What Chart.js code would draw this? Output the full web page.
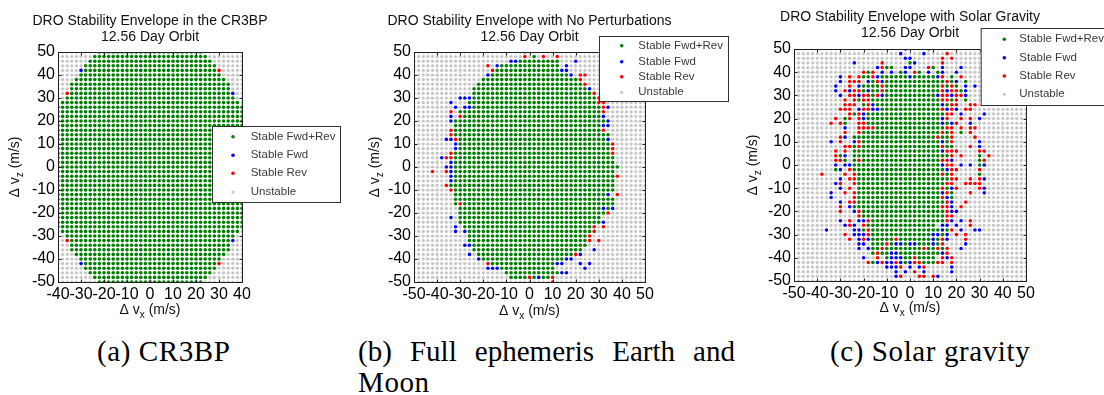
<!DOCTYPE html>
<html><head><meta charset="utf-8">
<script src="https://cdn.jsdelivr.net/npm/chart.js@4.4.0/dist/chart.umd.min.js"></script>
<style>
html,body{margin:0;padding:0;background:#fff;width:1104px;height:395px;overflow:hidden;position:relative}
canvas{position:absolute;top:0}
.cap{position:absolute;font-family:"Liberation Serif","DejaVu Serif",serif;font-size:29px;color:#000;white-space:nowrap;line-height:31px;letter-spacing:0.6px}
</style></head><body>
<canvas id="cA" width="370" height="330" style="left:0px"></canvas>
<canvas id="cB" width="370" height="330" style="left:360px"></canvas>
<canvas id="cC" width="369" height="330" style="left:735px"></canvas>
<div class="cap" style="left:97px;top:336px">(a) CR3BP</div>
<div class="cap" style="left:358px;top:336px;width:377px;white-space:normal;text-align:justify;text-align-last:justify;letter-spacing:0">(b) Full ephemeris Earth and</div>
<div class="cap" style="left:358px;top:367px">Moon</div>
<div class="cap" style="left:830px;top:336px">(c) Solar gravity</div>
<script>
// ---------------- DATA ----------------
const vzRows = [50,48,46,44,42,40,38,36,34,32,30,28,26,24,22,20,18,16,14,12,10,8,6,4,2,0,-2,-4,-6,-8,-10,-12,-14,-16,-18,-20,-22,-24,-26,-28,-30,-32,-34,-36,-38,-40,-42,-44,-46,-48,-50];
const vxColsA = [-40,-38,-36,-34,-32,-30,-28,-26,-24,-22,-20,-18,-16,-14,-12,-10,-8,-6,-4,-2,0,2,4,6,8,10,12,14,16,18,20,22,24,26,28,30,32,34,36,38,40];
const vxColsBC = [-50,-48,-46,-44,-42,-40,-38,-36,-34,-32,-30,-28,-26,-24,-22,-20,-18,-16,-14,-12,-10,-8,-6,-4,-2,0,2,4,6,8,10,12,14,16,18,20,22,24,26,28,30,32,34,36,38,40,42,44,46,48,50];
const xTicksA = [-40,-30,-20,-10,0,10,20,30,40];
const xTicksBC = [-50,-40,-30,-20,-10,0,10,20,30,40,50];
const yTicks = [-50,-40,-30,-20,-10,0,10,20,30,40,50];
const seriesNames = ['Stable Fwd+Rev','Stable Fwd','Stable Rev','Unstable'];
const seriesCodes = ['g','b','r','.'];
const titlesA = ['DRO Stability Envelope in the CR3BP','12.56 Day Orbit'];
const titlesB = ['DRO Stability Envelope with No Perturbations','12.56 Day Orbit'];
const titlesC = ['DRO Stability Envelope with Solar Gravity','12.56 Day Orbit'];

// g = Stable Fwd+Rev, b = Stable Fwd, r = Stable Rev, . = Unstable ; one string per vz row (50 .. -50)
const gridA = [
"..... ....g ggggg ggggg ggggg ggggg gg... ..... .",
"..... ...gg ggggg ggggg ggggg ggggg ggg.. ..... .",
"..... ..ggg ggggg ggggg ggggg ggggg gggg. ..... .",
"..... .gggg ggggg ggggg ggggg ggggg ggggg ..... .",
"..... bgggg ggggg ggggg ggggg ggggg ggggg r.... .",
"..... ggggg ggggg ggggg ggggg ggggg ggggg g.... .",
"....g ggggg ggggg ggggg ggggg ggggg ggggg gg... .",
"...gg ggggg ggggg ggggg ggggg ggggg ggggg ggg.. .",
"...gg ggggg ggggg ggggg ggggg ggggg ggggg ggg.. .",
"..rgg ggggg ggggg ggggg ggggg ggggg ggggg gggb. .",
"..ggg ggggg ggggg ggggg ggggg ggggg ggggg gggg. .",
".gggg ggggg ggggg ggggg ggggg ggggg ggggg ggggg .",
"ggggg ggggg ggggg ggggg ggggg ggggg ggggg ggggg g",
"ggggg ggggg ggggg ggggg ggggg ggggg ggggg ggggg g",
"ggggg ggggg ggggg ggggg ggggg ggggg ggggg ggggg g",
"ggggg ggggg ggggg ggggg ggggg ggggg ggggg ggggg g",
"ggggg ggggg ggggg ggggg ggggg ggggg ggggg ggggg g",
"ggggg ggggg ggggg ggggg ggggg ggggg ggggg ggggg g",
"ggggg ggggg ggggg ggggg ggggg ggggg ggggg ggggg g",
"ggggg ggggg ggggg ggggg ggggg ggggg ggggg ggggg g",
"ggggg ggggg ggggg ggggg ggggg ggggg ggggg ggggg g",
"ggggg ggggg ggggg ggggg ggggg ggggg ggggg ggggg g",
"ggggg ggggg ggggg ggggg ggggg ggggg ggggg ggggg g",
"ggggg ggggg ggggg ggggg ggggg ggggg ggggg ggggg g",
"ggggg ggggg ggggg ggggg ggggg ggggg ggggg ggggg g",
"ggggg ggggg ggggg ggggg ggggg ggggg ggggg ggggg g",
"ggggg ggggg ggggg ggggg ggggg ggggg ggggg ggggg g",
"ggggg ggggg ggggg ggggg ggggg ggggg ggggg ggggg g",
"ggggg ggggg ggggg ggggg ggggg ggggg ggggg ggggg g",
"ggggg ggggg ggggg ggggg ggggg ggggg ggggg ggggg g",
"ggggg ggggg ggggg ggggg ggggg ggggg ggggg ggggg g",
"ggggg ggggg ggggg ggggg ggggg ggggg ggggg ggggg g",
"ggggg ggggg ggggg ggggg ggggg ggggg ggggg ggggg g",
"ggggg ggggg ggggg ggggg ggggg ggggg ggggg ggggg g",
"ggggg ggggg ggggg ggggg ggggg ggggg ggggg ggggg g",
"ggggg ggggg ggggg ggggg ggggg ggggg ggggg ggggg g",
"ggggg ggggg ggggg ggggg ggggg ggggg ggggg ggggg g",
"ggggg ggggg ggggg ggggg ggggg ggggg ggggg ggggg g",
"ggggg ggggg ggggg ggggg ggggg ggggg ggggg ggggg g",
".gggg ggggg ggggg ggggg ggggg ggggg ggggg ggggg .",
"..ggg ggggg ggggg ggggg ggggg ggggg ggggg gggg. .",
"..rgg ggggg ggggg ggggg ggggg ggggg ggggg gggb. .",
"...gg ggggg ggggg ggggg ggggg ggggg ggggg ggg.. .",
"...gg ggggg ggggg ggggg ggggg ggggg ggggg ggg.. .",
"....g ggggg ggggg ggggg ggggg ggggg ggggg gg... .",
"..... ggggg ggggg ggggg ggggg ggggg ggggg g.... .",
"..... bgggg ggggg ggggg ggggg ggggg ggggg r.... .",
"..... .gggg ggggg ggggg ggggg ggggg ggggg ..... .",
"..... ..ggg ggggg ggggg ggggg ggggg gggg. ..... .",
"..... ...gg ggggg ggggg ggggg ggggg ggg.. ..... .",
"..... ....g ggggg ggggg ggggg ggggg gg... ..... ."
];

const gridB = [
"..... ..... ..... ..... ....g ..... ..... ..... ..... ..... .",
"..... ..... ..... ..... ....r .g.r. .r... ..... ..... ..... .",
"..... ..... ..... ..... .bbgg ggggg gg... b.... ..... ..... .",
"..... ..... ..... .r.bg ggggg ggggg gg.b. ..... ..... ..... .",
"..... ..... ..... ..rgg ggggg ggggg ggbb. ..... ..... ..... .",
"..... ..... ..... .bggg ggggg ggggg ggggb .rr.. ..... ..... .",
"..... ..... ..... ggggg ggggg ggggg ggggg gr... ..... ..... .",
"..... ..... ....g ggggg ggggg ggggg ggggg ggr.. ..... ..... .",
"..... ..... ...gg ggggg ggggg ggggg ggggg gggb. ..... ..... .",
"..... ..... ...gg ggggg ggggg ggggg ggggg ggggr ..... ..... .",
"..... ..... bbbgg ggggg ggggg ggggg ggggg ggggg r.... ..... .",
"..... ...b. ..ggg ggggg ggggg ggggg ggggg ggggg rr... ..... .",
"..... ....b .bbgg ggggg ggggg ggggg ggggg ggggg grb.. ..... .",
"..... ...r. ggggg ggggg ggggg ggggg ggggg ggggg gr... ..... .",
"..... ...b. rgggg ggggg ggggg ggggg ggggg ggggg gb... ..... .",
"..... ...bg ggggg ggggg ggggg ggggg ggggg ggggg ggb.. ..... .",
"..... ....g ggggg ggggg ggggg ggggg ggggg ggggg gbb.. ..... .",
"..... ...rg ggggg ggggg ggggg ggggg ggggg ggggg gr... ..... .",
"..... ...rg ggggg ggggg ggggg ggggg ggggg ggggg ggg.. ..... .",
"..... ..bbr ggggg ggggg ggggg ggggg ggggg ggggg ggb.. ..... .",
"..... ....b ggggg ggggg ggggg ggggg ggggg ggggg gggr. ..... .",
"..... ....b ggggg ggggg ggggg ggggg ggggg ggggg gggr. ..... .",
"..... ...rg ggggg ggggg ggggg ggggg ggggg ggggg gggr. ..... .",
"..... .brrg ggggg ggggg ggggg ggggg ggggg ggggg gggg. ..... .",
"..... ...bg ggggg ggggg ggggg ggggg ggggg ggggg gggg. ..... .",
"..... ..bbg ggggg ggggg ggggg ggggg ggggg ggggg ggggg ..... .",
"....r ..rbg ggggg ggggg ggggg ggggg ggggg ggggg gggg. ..... .",
"..... ...bg ggggg ggggg ggggg ggggg ggggg ggggg ggggr ..... .",
"..... ...bg ggggg ggggg ggggg ggggg ggggg ggggg gggg. ..... .",
"..... ..rgg ggggg ggggg ggggg ggggg ggggg ggggg gggg. ..... .",
"..... ...rg ggggg ggggg ggggg ggggg ggggg ggggg gggg. ..... .",
"..... ....g ggggg ggggg ggggg ggggg ggggg ggggg ggb.r ..... .",
"..... ....g ggggg ggggg ggggg ggggg ggggg ggggg gggg. ..... .",
"..... ....g rgggg ggggg ggggg ggggg ggggg ggggg gggg. ..... .",
"..... ..... ggggg ggggg ggggg ggggg ggggg ggggg gbgb. ..... .",
"..... ..... ggggg ggggg ggggg ggggg ggggg ggggg ggr.. ..... .",
"..... ...b. ggggg ggggg ggggg ggggg ggggg ggggg g.... ..... .",
"..... ..... ggggg ggggg ggggg ggggg ggggg ggggg gb... ..... .",
"..... ....b .gggg ggggg ggggg ggggg ggggg ggggr .r... ..... .",
"..... ....b .bggg ggggg ggggg ggggg ggggg ggggr ..... ..... .",
"..... ..... ..ggg ggggg ggggg ggggg ggggg gggr. ..... ..... .",
"..... ..... ..ggg ggggg ggggg ggggg ggggg gggr. r.... ..... .",
"..... ..... .bbgg ggggg ggggg ggggg ggggg ggg.. ..... ..... .",
"..... ..... ...gg ggggg ggggg ggggg ggggg gg..b ..... ..... .",
"..... ..... ..b.g ggggg ggggg ggggg ggggg rb... ..... ..... .",
"..... ..... ....b ggggg ggggg ggggg gggbb ..... ..... ..... .",
"..... ..... ..... .rggg ggggg ggggg gbb.. .b.b. ..... ..... .",
"..... ..... ..... .bbbg ggggg ggggg g.... ..b.. ..... ..... .",
"..... ..... ..... ..... ggggg ggggg ggbb. ..... ..... ..... .",
"..... ..... ..... ..... .gggg rgbgg r.... ..... ..... ..... .",
"..... ..... ..... ..... ..... ..... r.... ..... ..... ..... ."
];

const gridC = [
"..... ..... ..... ..... ....b ....r ..... ..... ..... ..... .",
"..... ..... ..... ..... ...b. ...b. ...r. ..... ..... ..... .",
"..... ..... ..... ..... ....b b.... ..r.r ..... ..... ..... .",
"..... ..... ...b. ....r ..... gb... ..r.. ..... ..... ..... .",
"..... ..... ..... ...br gg..b b...r g.b.. .b... ..... ..... .",
"..... ..... ..... rgr.b .b.gb .rg.b .gb.. b.... ..... ..... .",
"..... ..... b.r.r ggrbg ggggg bgggg gbr.g .r... ..... ..... .",
"..... ..... b.rrr .bgrb ggggg ggggg gggrg b.g.. ..... ..... .",
"..... ....b ..r.b ggggr ggggg ggggg ggrgr g.b.b ..... ..... .",
"..... ....b .rbrr gbggr ggggg ggggg ggrbr rgb.. ..... ..... .",
"..... ..... b.rrb rrgrb ggggg ggggg gbrrb rrb.. ..... ..... .",
"..... ..... .r.rg rrggg ggggg ggggg ggrrg r.g.. ..... ..... .",
"..... ..... .rrr. grbgg ggggg ggggg ggbgr r..rr ..... ..... .",
"..... ..... rrr.b rrbbg ggggg ggggg ggrbr b.rr. ..... ..... .",
"..... ..... ..rgr bgggg ggggg ggggg gggrr .b... .b... ..... .",
"..... ....r .gr.r bgggg ggggg ggggg ggbr. .r.r. b.... ..... .",
"..... ...r. rg..r rgggg ggggg ggggg ggbgb r..b. ..... ..... .",
"..... ..... .b..r rrrgg ggggg ggggg gggrr .r.rr ..... ..... .",
"..... ..... .r..r ggggg ggggg ggggg ggrgr .g.r. ..... ..... .",
"..... ..... rb.gg ggggg ggggg ggggg grggr ....r ..... ..... .",
"..... ...b. r..br ggggg ggggg ggggg ggbgr ..... b.... ..... .",
"..... ..... .rrgr ggggg ggggg ggggg ggrgg ...r. b.... ..... .",
"..... ....r .r.gg ggggg ggggg ggggg ggbrr r.... rr... ..... .",
"..... ....r gb.gg ggggg ggggg ggggg ggggr .r... g.r.. ..... .",
"..... ....r rg.gr ggggg ggggg ggggg ggrrb ..... gr... ..... .",
"..... ....b .bbgg ggggg ggggg ggggg ggbrr .b.b. gb... ..... .",
"..... ....g b.rgg ggggg ggggg ggggg gggbr r.... r.... ..... .",
"..... .r... .r.rg ggggg ggggg ggggg ggrgr ..... g.... ..... .",
"..... ..... b.rrg ggggg ggggg ggggg ggggr r..r. rb... ..... .",
"..... ....b r..rg ggggg ggggg ggggg gggrr ..rrr r.... ..... .",
"..... ..... b.r.g ggggg ggggg ggggg ggrgb r.... rb... ..... .",
"..... ...b. .r.rg ggggg ggggg ggggg ggbrg ...r. .b... ..... .",
"..... ...b. ...rg ggggg ggggg ggggg ggrbg ..... ..... ..... .",
"..... ..... b.rrg ggggg ggggg ggggg gggrb ..r.. ..... ..... .",
"..... ..... r.bgg ggggg ggggg ggggg ggrrb .r... ..... ..... .",
"..... ..... r..br ggggg ggggg ggggg gggrb b.... ..... ..... .",
"..... ..... ....r ggggg ggggg ggggg gggrr ..... ..... ..... .",
"..... ..... b.r.b brggg ggggg ggggg gggrb .b.r. ..... ..... .",
"..... ..... .brb. rgggg ggggg ggggg g.bb. b..r. ..... ..... .",
"..... ..b.. ...bb grggg ggggg ggggg ggbgr .b..b b.... ..... .",
"..... ..... .r.bb brggg ggggg ggggg bbgb. r.r.. ..... ..... .",
"..... ..... ..r.b rbggg ggrgg ggggg bgrb. ..r.. ..... ..... .",
"..... ..... ....b b.ggg rgbbg bbggg bgr.. ..b.. ..... ..... .",
"..... ..... ....b .bggr ggggg gggrg grgr. .b... ..... ..... .",
"..... ..... ..... ..grg gbbgg ggggg ggbr. ..... ..... ..... .",
"..... ..... ..... b..r. gbbbg grggg g.rbr ..... ..... ..... .",
"..... ..... ..... .rgbr bbrbg brrgg grr.r ..... ..... ..... .",
"..... ..... ..... ..... bbbr. b.br. ....b ..... ..... ..... .",
"..... ..... ..... ..... ..b.b .r.b. ....b ..... ..... ..... .",
"..... ..... ..... ..... ..br. ..rr. rb... ..... ..... ..... .",
"..... ..... ..... ..... ..... ..... ..... ..... ..... ..... ."
];

// ---------------- STYLE ----------------
const FONT = '"Liberation Sans", Arial, Helvetica, sans-serif';
const colorOf = {g:'#008000', b:'#0000ff', r:'#ff0000', '.':'#c6c6c6'};
const radiusOf = {g:1.8, b:1.8, r:1.8, '.':1.6};

function buildSeries(grid, cols) {
  const out = {g:[], b:[], r:[], '.':[]};
  grid.forEach((row, ri) => {
    const cells = row.replace(/ /g, '');
    cols.forEach((vx, ci) => {
      const c = cells[ci] || '.';
      (out[c] || out['.']).push({x: vx, y: vzRows[ri]});
    });
  });
  return out;
}

function drawSub(ctx, a, s, b, cx, cy) {
  const big = '14px ' + FONT, small = '10px ' + FONT;
  ctx.font = big; const w1 = ctx.measureText(a).width, w3 = ctx.measureText(b).width;
  ctx.font = small; const w2 = ctx.measureText(s).width;
  let x = cx - (w1 + w2 + w3) / 2;
  ctx.textAlign = 'left'; ctx.textBaseline = 'middle'; ctx.fillStyle = '#111';
  ctx.font = big; ctx.fillText(a, x, cy); x += w1;
  ctx.font = small; ctx.fillText(s, x, cy + 5); x += w2;
  ctx.font = big; ctx.fillText(b, x, cy);
}

const decor = {
  id: 'decor',
  afterDraw(chart, args, o) {
    const ctx = chart.ctx, a = chart.chartArea;
    const xs = chart.scales.x, ys = chart.scales.y;
    ctx.save();
    ctx.strokeStyle = '#222'; ctx.lineWidth = 1;
    const L = Math.round(a.left) + 0.5, T = Math.round(a.top) + 0.5, R = Math.round(a.right) + 0.5, B = Math.round(a.bottom) + 0.5;
    ctx.strokeRect(L, T, R - L, B - T);
    ctx.beginPath();
    xs.ticks.forEach(t => { const px = Math.round(xs.getPixelForValue(t.value)) + 0.5;
      ctx.moveTo(px, B); ctx.lineTo(px, B - 3); ctx.moveTo(px, T); ctx.lineTo(px, T + 3); });
    ys.ticks.forEach(t => { const py = Math.round(ys.getPixelForValue(t.value)) + 0.5;
      ctx.moveTo(L, py); ctx.lineTo(L + 3, py); ctx.moveTo(R, py); ctx.lineTo(R - 3, py); });
    ctx.stroke();
    ctx.fillStyle = '#111'; ctx.font = '14px ' + FONT; ctx.textAlign = 'center'; ctx.textBaseline = 'middle';
    const cx = (a.left + a.right) / 2;
    o.title.forEach((t, i) => ctx.fillText(t, cx, o.titleY[i]));
    drawSub(ctx, '\u0394 v', 'x', ' (m/s)', cx, o.xTitleY);
    ctx.save();
    ctx.translate(o.yTitleX, (a.top + a.bottom) / 2);
    ctx.rotate(-Math.PI / 2);
    drawSub(ctx, '\u0394 v', 'z', ' (m/s)', 0, 0);
    ctx.restore();
    const lg = o.legend;
    ctx.fillStyle = '#fff'; ctx.fillRect(lg.x, lg.y, lg.w, lg.h);
    ctx.strokeStyle = '#333'; ctx.lineWidth = 1; ctx.strokeRect(lg.x + 0.5, lg.y + 0.5, lg.w, lg.h);
    chart.data.datasets.forEach((ds, i) => {
      const y = lg.rows[i];
      ctx.fillStyle = ds.backgroundColor;
      ctx.beginPath(); ctx.arc(lg.x + lg.mx, y, ds.pointRadius, 0, Math.PI * 2); ctx.fill();
      ctx.fillStyle = '#3a3a3a'; ctx.font = '11.5px ' + FONT; ctx.textAlign = 'left'; ctx.textBaseline = 'middle';
      ctx.fillText(ds.label, lg.x + lg.tx, y);
    });
    ctx.restore();
  }
};

function makeChart(id, grid, cols, xTicks, geom, deco) {
  const s = buildSeries(grid, cols);
  const datasets = seriesCodes.map((c, i) => ({
    label: seriesNames[i], data: s[c],
    backgroundColor: colorOf[c], borderWidth: 0, pointRadius: radiusOf[c], pointHoverRadius: radiusOf[c],
    pointStyle: 'circle'
  }));
  new Chart(document.getElementById(id), {
    type: 'scatter',
    data: { datasets },
    plugins: [decor],
    options: {
      responsive: false, animation: false, events: [],
      layout: { padding: geom.padding },
      plugins: { legend: { display: false }, tooltip: { enabled: false }, title: { display: false }, decor: deco },
      scales: {
        x: {
          type: 'linear', min: xTicks[0], max: xTicks[xTicks.length - 1],
          afterBuildTicks: sc => { sc.ticks = xTicks.map(v => ({ value: v })); },
          afterFit: sc => { sc.height = geom.xH; },
          ticks: { autoSkip: false, maxRotation: 0, minRotation: 0, padding: 3, color: '#000', font: { family: FONT, size: 16 } },
          grid: { color: 'rgba(0,0,0,0.35)', lineWidth: 0.6, drawTicks: false },
          border: { display: false, dash: [1, 3] }
        },
        y: {
          type: 'linear', min: yTicks[0], max: yTicks[yTicks.length - 1],
          afterBuildTicks: sc => { sc.ticks = yTicks.map(v => ({ value: v })); },
          afterFit: sc => { sc.width = geom.yW; },
          ticks: { autoSkip: false, padding: 3, color: '#000', font: { family: FONT, size: 16 } },
          grid: { color: 'rgba(0,0,0,0.35)', lineWidth: 0.6, drawTicks: false },
          border: { display: false, dash: [1, 3] }
        }
      }
    }
  });
}

makeChart('cA', gridA, vxColsA, xTicksA,
  { padding: { left: 0, right: 128, top: 52, bottom: 18 }, yW: 58, xH: 30 },
  { title: titlesA, titleY: [20.7, 36.7], xTitleY: 310, yTitleX: 15,
    legend: { x: 212, y: 126, w: 128, h: 76, rows: [136.7, 155.3, 173.3, 192], mx: 21, tx: 38.7 } });

makeChart('cB', gridB, vxColsBC, xTicksBC,
  { padding: { left: 0, right: 85, top: 52, bottom: 18 }, yW: 54, xH: 30 },
  { title: titlesB, titleY: [20.7, 36.7], xTitleY: 311, yTitleX: 15,
    legend: { x: 239, y: 36, w: 129, h: 65, rows: [45.7, 61.7, 76.7, 92.3], mx: 22.7, tx: 39.3 } });

makeChart('cC', gridC, vxColsBC, xTicksBC,
  { padding: { left: 0, right: 78, top: 49, bottom: 19 }, yW: 59, xH: 30 },
  { title: titlesC, titleY: [17.3, 33.3], xTitleY: 308, yTitleX: 18,
    legend: { x: 245.7, y: 28, w: 140, h: 77, rows: [39.3, 57.7, 76, 94.3], mx: 23.6, tx: 38.6 } });
</script>
</body></html>
